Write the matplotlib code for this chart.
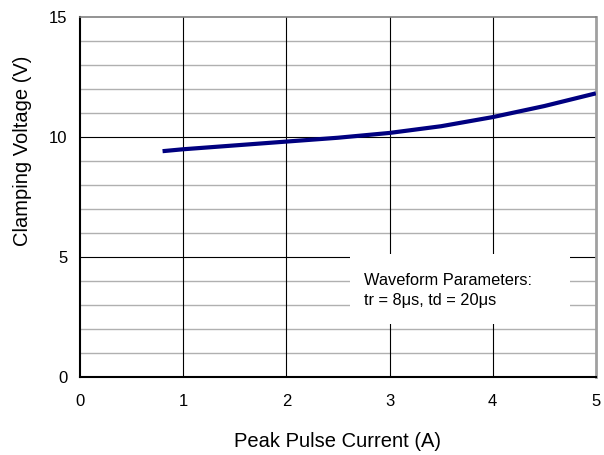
import numpy as np
import matplotlib.pyplot as plt
from matplotlib.patches import Rectangle

plt.rcParams['font.family'] = ['Liberation Sans', 'DejaVu Sans']

# curve
current = [0.8, 1.0, 1.5, 2.0, 2.5, 3.0, 3.5, 4.0, 4.5, 5.0]
voltage = [9.42, 9.5, 9.66, 9.82, 9.98, 10.18, 10.46, 10.84, 11.3, 11.83]

xticks = [0, 1, 2, 3, 4, 5]
yticks = [0, 5, 10, 15]

fig = plt.figure(figsize=(6.04, 4.55), dpi=100)
ax = fig.add_axes([0.1325, 0.171, 0.854, 0.791])

ax.set_xlim(0, 5)
ax.set_ylim(0, 15)

# grid: thin gray every 1 V, black on major ticks
for v in range(1, 15):
    if v % 5:
        ax.axhline(v, color='#b0b0b0', lw=1.0, zorder=1)
for v in [5, 10]:
    ax.axhline(v, color='black', lw=0.8, zorder=1)
for c in [1, 2, 3, 4]:
    ax.axvline(c, color='black', lw=0.8, zorder=1)

# white box behind the note
ax.add_patch(Rectangle((2.62, 2.2), 2.13, 2.95, facecolor='white',
                       edgecolor='none', zorder=2))
ax.text(2.75, 4.05, 'Waveform Parameters:', fontsize=11.8, va='center', zorder=3)
ax.text(2.75, 3.18, 'tr = 8\u03bcs, td = 20\u03bcs', fontsize=11.8, va='center', zorder=3)

ax.plot(current, voltage, color='#000080', lw=3, solid_capstyle='butt', zorder=4)

ax.set_xticks(xticks)
ax.set_yticks(yticks)
ax.tick_params(length=0, labelsize=12)
ax.tick_params(axis='x', pad=12)
ax.tick_params(axis='y', pad=9)

ax.spines['left'].set_color('black')
ax.spines['left'].set_linewidth(1.5)
ax.spines['bottom'].set_color('black')
ax.spines['bottom'].set_linewidth(1.5)
ax.spines['top'].set_color('#808080')
ax.spines['top'].set_linewidth(1.2)
ax.spines['right'].set_color('#a0a0a0')
ax.spines['right'].set_linewidth(2)

ax.set_xlabel('Peak Pulse Current (A)', fontsize=14.5)
ax.set_ylabel('Clamping Voltage (V)', fontsize=14.5)
ax.xaxis.set_label_coords(0.5, -0.153)
ax.yaxis.set_label_coords(-0.093, 0.63)

fig.savefig('out.png', dpi=100)
